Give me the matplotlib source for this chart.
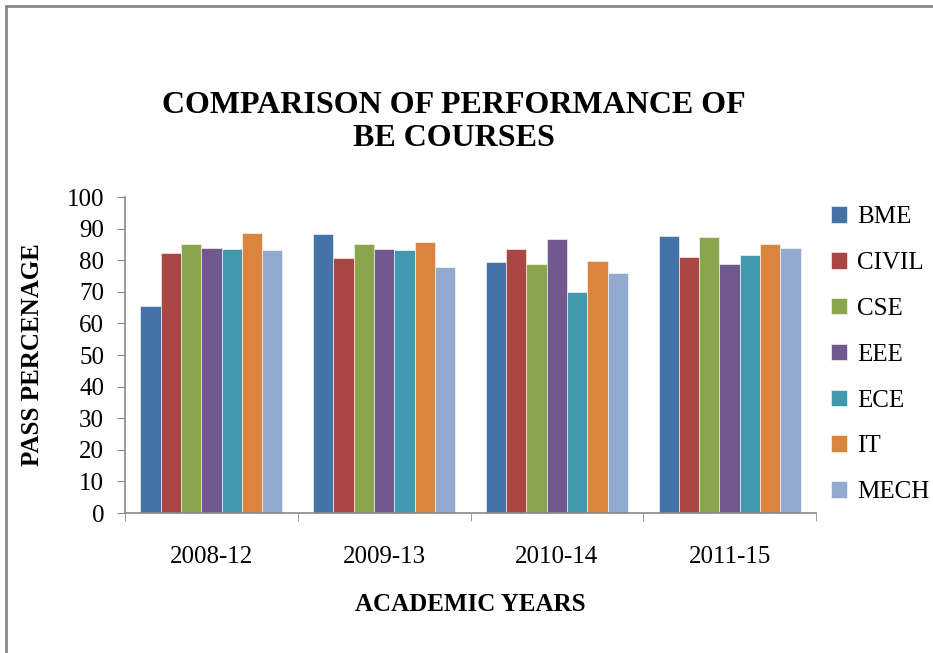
import matplotlib
matplotlib.use("Agg")
import matplotlib.pyplot as plt
from matplotlib.patches import Rectangle
import numpy as np

plt.rcParams['font.family'] = ['Liberation Serif', 'DejaVu Serif']

years = ["2008-12", "2009-13", "2010-14", "2011-15"]
courses = ["BME", "CIVIL", "CSE", "EEE", "ECE", "IT", "MECH"]
bme = [65.6, 88.3, 79.3, 87.8]
civil = [82.4, 80.7, 83.6, 81.0]
cse = [85.2, 85.2, 78.9, 87.4]
eee = [83.9, 83.6, 86.8, 78.9]
ece = [83.6, 83.3, 70.0, 81.5]
it = [88.5, 85.8, 79.9, 85.0]
mech = [83.3, 77.7, 76.1, 84.0]
colors = ["#4572A7", "#AA4643", "#89A54E", "#71588F", "#4198AF", "#DB843D", "#93A9CF"]

series = [bme, civil, cse, eee, ece, it, mech]

fig = plt.figure(figsize=(9.33, 6.53), dpi=100)
ax = fig.add_axes([125 / 933, 1 - 513 / 653, (816 - 125) / 933, (513 - 197) / 653])

x = np.arange(len(years))
w = 0.1175
for i, (vals, name) in enumerate(zip(series, courses)):
    ax.bar(x + (i - 3) * w, vals, w, color=colors[i], label=name,
           edgecolor="white", linewidth=0.4)

ax.set_xlim(-0.5, 3.5)
ax.set_ylim(0, 100)
ax.set_yticks(range(0, 101, 10))
ax.set_xticks(x)
ax.set_xticklabels(years)
ax.set_xticks(np.arange(-0.5, 4, 1), minor=True)
ax.tick_params(axis="x", which="major", length=0, labelsize=18, pad=24)
ax.tick_params(axis="x", which="minor", length=6, color="#888888", direction="out")
ax.tick_params(axis="y", length=6, color="#888888", labelsize=18, pad=9)
for s in ["top", "right"]:
    ax.spines[s].set_visible(False)
for s in ["left", "bottom"]:
    ax.spines[s].set_color("#888888")
    ax.spines[s].set_linewidth(1.2)

ax.set_xlabel("ACADEMIC YEARS", fontsize=18, fontweight="bold", labelpad=18)
ax.set_ylabel("PASS PERCENAGE", fontsize=18, fontweight="bold", labelpad=16)

fig.text(454 / 933, 1 - 122 / 653, "COMPARISON OF PERFORMANCE OF\nBE COURSES",
         ha="center", va="center", fontsize=23, fontweight="bold", linespacing=1.18)

leg = ax.legend(loc="upper left", bbox_to_anchor=(831 / 933, 1 - 206 / 653),
                bbox_transform=fig.transFigure, frameon=False, fontsize=18,
                handlelength=0.65, handleheight=0.65, handletextpad=0.4,
                labelspacing=0.95, borderaxespad=0, borderpad=0)

# outer chart border
fig.patches.append(Rectangle((6 / 933, -0.1), 1.2, 1 - 6 / 653 + 0.1,
                             transform=fig.transFigure, fill=False,
                             edgecolor="#888888", linewidth=2.0))

fig.savefig("out.png", dpi=100)
